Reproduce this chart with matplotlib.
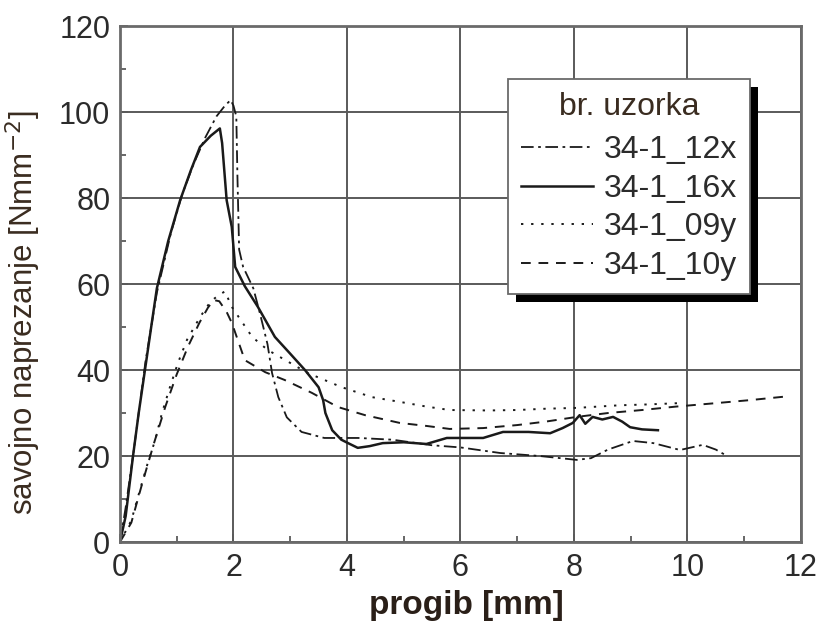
import matplotlib
matplotlib.use("Agg")
import matplotlib.pyplot as plt
from matplotlib.patches import Rectangle

plt.rcParams["font.family"] = ["Liberation Sans", "DejaVu Sans"]

# series (progib [mm] vs savojno naprezanje [N/mm^2])
x_12x = [0, 0.1, 0.25, 0.45, 0.65, 0.9, 1.1, 1.3, 1.5, 1.7, 1.85, 1.95, 2.0, 2.05, 2.07,
         2.1, 2.17, 2.35, 2.47, 2.6, 2.68, 2.79, 2.94, 3.2, 3.6, 4.2, 4.8, 5.5, 6.0, 6.7,
         7.4, 8.05, 8.3, 8.6, 9.04, 9.4, 9.87, 10.27, 10.5, 10.7]
y_12x = [0, 8, 22, 42, 58, 72, 81, 88, 94, 99, 101.5, 102.8, 101.5, 99, 85,
         68, 64, 59, 53, 46, 39.3, 33.7, 29, 25.6, 24.2, 24.2, 23.8, 22.5, 22, 20.7,
         20, 19.1, 19.5, 21.5, 23.5, 23, 21.4, 22.6, 21.5, 20]

x_16x = [0, 0.1, 0.23, 0.33, 0.44, 0.55, 0.65, 0.85, 1.06, 1.25, 1.41, 1.6, 1.76, 1.8,
         1.88, 1.97, 2.03, 2.2, 2.43, 2.73, 3.0, 3.26, 3.5, 3.58, 3.62, 3.74, 3.9, 4.02,
         4.19, 4.4, 4.63, 5.0, 5.4, 5.76, 6.4, 6.75, 7.2, 7.58, 7.8, 7.98, 8.1, 8.2,
         8.33, 8.5, 8.69, 8.85, 8.99, 9.2, 9.48]
y_16x = [0, 6, 20, 30, 40, 50, 59, 70, 79.5, 86.5, 91.9, 94.5, 96.2, 92.8,
         79.5, 73.3, 64, 59.5, 54.7, 47.7, 43.8, 40, 36, 33, 30, 26, 23.8, 23,
         21.9, 22.3, 23, 23.2, 22.8, 24.2, 24.2, 25.6, 25.6, 25.3, 26.5, 27.7, 29.5, 27.5,
         29.1, 28.5, 29.1, 28, 26.7, 26.2, 26]

x_09y = [0, 0.2, 0.35, 0.49, 0.62, 0.74, 0.88, 1.02, 1.18, 1.41, 1.6, 1.75, 1.85, 1.97,
         2.33, 2.6, 3.31, 3.91, 4.44, 4.93, 5.4, 5.81, 6.5, 7.0, 7.5, 8.05, 8.8, 9.3, 9.85]
y_09y = [0, 5, 12, 18.4, 23.7, 30, 36, 41.6, 47, 52.3, 56, 57.5, 58.3, 54.7,
         47.7, 44.7, 39.3, 36, 33.7, 32.6, 31.5, 30.7, 30.6, 30.7, 31, 31.2, 31.8, 32, 32.3]

x_10y = [0, 0.2, 0.4, 0.6, 0.8, 1.0, 1.2, 1.4, 1.55, 1.65, 1.75, 1.88, 1.97, 2.2, 2.56,
         2.9, 3.38, 3.84, 4.32, 4.93, 5.4, 5.81, 6.4, 7.0, 7.5, 8.05, 8.6,
         9.2, 9.8, 10.5, 11.1, 11.7, 11.8]
y_10y = [0, 4.5, 14, 23, 31.5, 39, 45.5, 51, 54.5, 56.3, 56, 53.5, 51, 42.3, 39.5,
         37.7, 34.7, 31.4, 29.5, 27.7, 27, 26.3, 26.5, 27.2, 28, 29.1, 30,
         30.7, 31.5, 32.3, 33, 33.8, 33]

labels = ["34-1_12x", "34-1_16x", "34-1_09y", "34-1_10y"]
x_ticks = [0, 2, 4, 6, 8, 10, 12]
y_ticks = [0, 20, 40, 60, 80, 100, 120]

fig = plt.figure(figsize=(8.24, 6.25), dpi=100)
ax = fig.add_axes([0.1456, 0.1328, 0.8264, 0.8254])

ink = "#1a1a1a"
ax.plot(x_12x, y_12x, color=ink, lw=1.3, dashes=(7, 2.5, 1.5, 2.5), label=labels[0])
ax.plot(x_16x, y_16x, color=ink, lw=1.8, label=labels[1])
ax.plot(x_09y, y_09y, color=ink, lw=1.4, dashes=(1.2, 4), label=labels[2])
ax.plot(x_10y, y_10y, color=ink, lw=1.4, dashes=(5, 4), label=labels[3])

ax.set_xlim(0, 12)
ax.set_ylim(0, 120)
ax.set_xticks(x_ticks)
ax.set_yticks(y_ticks)
ax.set_xticks(range(1, 12, 2), minor=True)
ax.set_yticks(range(10, 120, 20), minor=True)
ax.grid(True, which="major", color="#5a5a5a", lw=1.4)
ax.set_axisbelow(True)
ax.tick_params(which="both", direction="in", colors="#5a5a5a", labelcolor="#2b2b2b",
               labelsize=22, width=1.3)
ax.tick_params(which="major", length=6)
ax.tick_params(which="minor", length=4)
ax.tick_params(axis="x", which="major", pad=8)
ax.tick_params(axis="y", which="major", pad=7)
for sp in ax.spines.values():
    sp.set_color("#6a6a6a")
    sp.set_linewidth(2)

ax.set_xlabel("progib [mm]", fontsize=24, fontweight="bold", color="#2a1f18")
ax.set_ylabel("savojno naprezanje [Nmm$^{-2}$]", fontsize=22.5, color="#3a2c20")
ax.xaxis.set_label_coords(0.508, -0.093)
ax.yaxis.set_label_coords(-0.113, 0.444)

leg = ax.legend(title="br. uzorka", loc="upper left", bbox_to_anchor=(0.57, 0.897),
                fontsize=23, title_fontsize=23, frameon=True, fancybox=False,
                edgecolor="#6a6a6a", framealpha=1, handlelength=2.25, handletextpad=0.35,
                labelspacing=0.27, borderpad=0.4, borderaxespad=0)
leg._legend_box.sep = 9.5  # extra gap under the title
leg.get_frame().set_linewidth(1.3)
leg.get_title().set_color("#3a2c20")
for t in leg.get_texts():
    t.set_color("#2b2b2b")

# hard black drop shadow behind the legend box
fig.canvas.draw()
bb = leg.get_window_extent().transformed(fig.transFigure.inverted())
dx, dy = 8 / 824, 8 / 625
shadow = Rectangle((bb.x0 + dx, bb.y0 - dy), bb.width, bb.height, transform=fig.transFigure,
                   facecolor="black", edgecolor="none", zorder=leg.get_zorder() - 0.5)
ax.add_artist(shadow)
shadow.set_clip_on(False)

fig.savefig("out.png", dpi=100)
